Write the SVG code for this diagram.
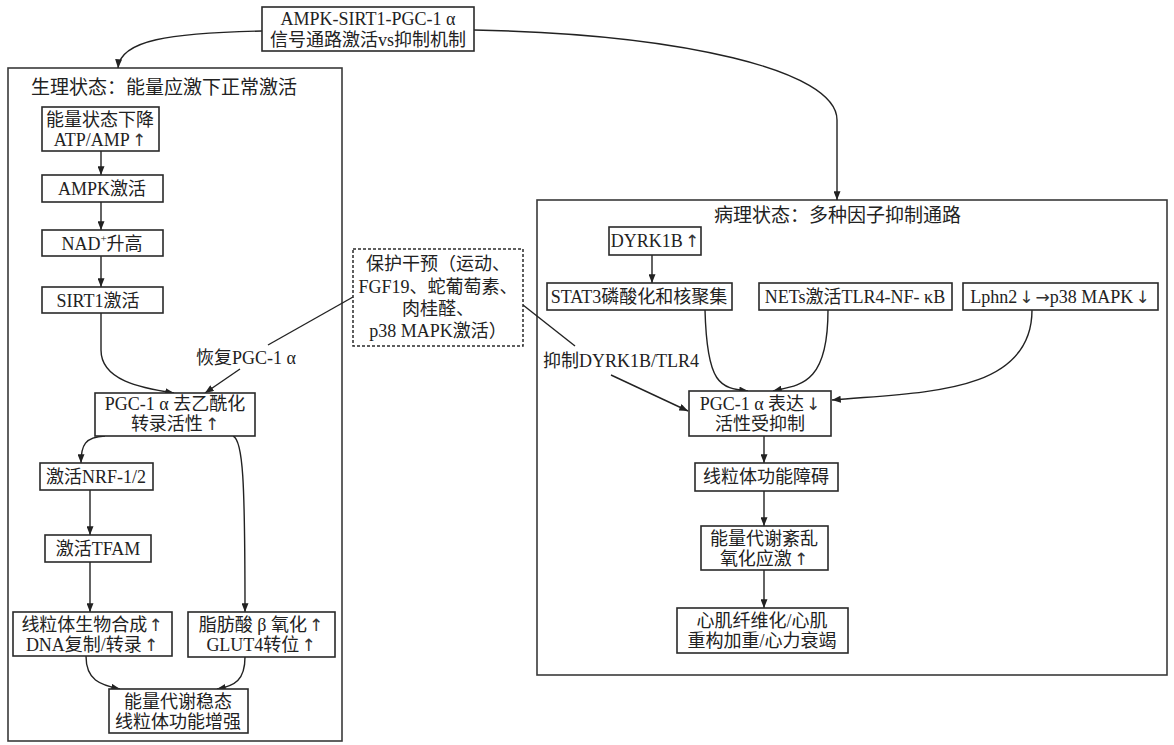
<svg xmlns="http://www.w3.org/2000/svg" width="1174" height="745" viewBox="0 0 1174 745">
<defs>
<style>
.bg{fill:#fff}
.box{fill:#fff;stroke:#2a2a2a;stroke-width:1.6}
.cl{fill:none;stroke:#3a3a3a;stroke-width:1.6}
.dash{fill:#fff;stroke:#2a2a2a;stroke-width:1.5;stroke-dasharray:3 2}
.t{font-family:"Liberation Serif","Noto Sans CJK SC",serif;font-size:18px;fill:#222;text-anchor:middle;dominant-baseline:central}
.ts{font-family:"Liberation Serif","Noto Sans CJK SC",serif;font-size:19px;fill:#222;text-anchor:start;dominant-baseline:central}
.u{font-family:"DejaVu Sans",sans-serif;font-size:17px;font-weight:normal;fill:#333}
.c{fill:none;stroke:#222;stroke-width:1.4}
.a{fill:none;stroke:#222;stroke-width:1.4;marker-end:url(#ah)}
</style>
<marker id="ah" viewBox="0 0 10 8" refX="10" refY="4" markerWidth="9" markerHeight="7" orient="auto" markerUnits="userSpaceOnUse">
<path d="M0,0 L10,4 L0,8 z" fill="#222"/>
</marker>
</defs>
<rect class="bg" x="0" y="0" width="1174" height="745"/>

<g id="cluster-left">
<rect class="cl" x="8" y="68" width="334" height="673"/>
<text class="ts" x="31" y="87">生理状态：能量应激下正常激活</text>
</g>
<g id="cluster-right">
<rect class="cl" x="537" y="200" width="630" height="475"/>
<text class="ts" x="714" y="215">病理状态：多种因子抑制通路</text>
</g>

<g id="connectors">
<path class="a" d="M262 31 C 170 33 120 40 118 68"/>
<path class="a" d="M474 30 C 680 34 837 70 837 120 L837 200"/>
<path class="a" d="M101 151 L101 175"/>
<path class="a" d="M101 202 L101 230"/>
<path class="a" d="M101 256 L101 287"/>
<path class="a" d="M101 313 L101 350 C 101 380 140 388 174 393"/>
<path class="c" d="M353 297 L268 345"/>
<path class="a" d="M240 369 L205 393"/>
<path class="a" d="M105 436 C 85 437 81 445 81 463"/>
<path class="a" d="M233 436 C 243 440 245 480 245 612"/>
<path class="a" d="M90 490 L90 535"/>
<path class="a" d="M90 562 L90 612"/>
<path class="a" d="M86 656 C 86 680 100 685 120 689"/>
<path class="a" d="M245 657 C 245 680 235 686 217 689"/>
<path class="c" d="M523 305 L575 346"/>
<path class="a" d="M611 375 L688 411"/>
<path class="a" d="M652 255 L652 283"/>
<path class="a" d="M705 310 C 707 385 720 388 748 391"/>
<path class="a" d="M828 310 C 828 385 800 385 773 391"/>
<path class="a" d="M1032 310 C 1032 395 920 392 832 400"/>
<path class="a" d="M764 436 L764 463"/>
<path class="a" d="M764 491 L764 526"/>
<path class="a" d="M764 570 L764 608"/>
</g>

<g id="n-top">
<rect class="box" x="262" y="7" width="212" height="44"/>
<text class="t" x="368" y="19" font-size="19">AMPK-SIRT1-PGC-1 α</text>
<text class="t" x="368" y="40" font-size="19">信号通路激活vs抑制机制</text>
</g>

<g id="n-energy-drop">
<rect class="box" x="42" y="107" width="117" height="44"/>
<text class="t" x="100" y="120">能量状态下降</text>
<text class="t" x="100" y="140">ATP/AMP<tspan class="u" dx="2">↑</tspan></text>
</g>
<g id="n-ampk">
<rect class="box" x="42" y="175" width="121" height="27"/>
<text class="t" x="102" y="189">AMPK激活</text>
</g>
<g id="n-nad">
<rect class="box" x="42" y="230" width="121" height="26"/>
<text class="t" x="102" y="244">NAD<tspan font-size="11" dy="-6">+</tspan><tspan dy="6">升高</tspan></text>
</g>
<g id="n-sirt1">
<rect class="box" x="42" y="287" width="121" height="26"/>
<text class="t" x="98" y="301">SIRT1激活</text>
</g>
<g id="n-restore-label">
<text class="t" x="246" y="358">恢复PGC-1 α</text>
</g>
<g id="n-pgc-deacetyl">
<rect class="box" x="95" y="393" width="160" height="43"/>
<text class="t" x="175" y="404">PGC-1 α 去乙酰化</text>
<text class="t" x="175" y="424">转录活性<tspan class="u" dx="2">↑</tspan></text>
</g>
<g id="n-nrf">
<rect class="box" x="40" y="463" width="113" height="27"/>
<text class="t" x="96" y="477">激活NRF-1/2</text>
</g>
<g id="n-tfam">
<rect class="box" x="45" y="535" width="106" height="27"/>
<text class="t" x="98" y="549">激活TFAM</text>
</g>
<g id="n-mito-bio">
<rect class="box" x="13" y="612" width="159" height="44"/>
<text class="t" x="92" y="625">线粒体生物合成<tspan class="u" dx="1">↑</tspan></text>
<text class="t" x="92" y="645">DNA复制/转录<tspan class="u" dx="2">↑</tspan></text>
</g>
<g id="n-fatty">
<rect class="box" x="188" y="612" width="147" height="45"/>
<text class="t" x="261" y="625">脂肪酸 β 氧化<tspan class="u" dx="2">↑</tspan></text>
<text class="t" x="261" y="645">GLUT4转位<tspan class="u" dx="2">↑</tspan></text>
</g>
<g id="n-homeostasis">
<rect class="box" x="109" y="689" width="139" height="44"/>
<text class="t" x="178" y="702">能量代谢稳态</text>
<text class="t" x="178" y="722">线粒体功能增强</text>
</g>

<g id="n-protect">
<rect class="dash" x="353" y="249" width="170" height="97"/>
<text class="t" x="438" y="264">保护干预（运动、</text>
<text class="t" x="438" y="287">FGF19、蛇葡萄素、</text>
<text class="t" x="438" y="309">肉桂醛、</text>
<text class="t" x="438" y="331">p38 MAPK激活）</text>
</g>
<g id="n-inhibit-label">
<text class="t" x="621" y="361">抑制DYRK1B/TLR4</text>
</g>

<g id="n-dyrk1b">
<rect class="box" x="609" y="227" width="92" height="28"/>
<text class="t" x="655" y="241">DYRK1B<tspan class="u" dx="2">↑</tspan></text>
</g>
<g id="n-stat3">
<rect class="box" x="547" y="283" width="185" height="27"/>
<text class="t" x="639" y="297">STAT3磷酸化和核聚集</text>
</g>
<g id="n-nets">
<rect class="box" x="759" y="283" width="193" height="27"/>
<text class="t" x="855" y="297">NETs激活TLR4-NF- κB</text>
</g>
<g id="n-lphn2">
<rect class="box" x="963" y="283" width="195" height="27"/>
<text class="t" x="1060" y="297">Lphn2<tspan class="u" dx="2">↓</tspan><tspan class="u" dx="2">→</tspan>p38 MAPK<tspan class="u" dx="2">↓</tspan></text>
</g>
<g id="n-pgc-down">
<rect class="box" x="689" y="391" width="142" height="45"/>
<text class="t" x="760" y="404">PGC-1 α 表达<tspan class="u" dx="2">↓</tspan></text>
<text class="t" x="760" y="424">活性受抑制</text>
</g>
<g id="n-mito-dys">
<rect class="box" x="695" y="463" width="143" height="28"/>
<text class="t" x="766" y="477">线粒体功能障碍</text>
</g>
<g id="n-metab">
<rect class="box" x="701" y="526" width="127" height="44"/>
<text class="t" x="764" y="539">能量代谢紊乱</text>
<text class="t" x="764" y="559">氧化应激<tspan class="u" dx="2">↑</tspan></text>
</g>
<g id="n-fibrosis">
<rect class="box" x="677" y="608" width="171" height="45"/>
<text class="t" x="762" y="621">心肌纤维化/心肌</text>
<text class="t" x="762" y="641">重构加重/心力衰竭</text>
</g>
</svg>
